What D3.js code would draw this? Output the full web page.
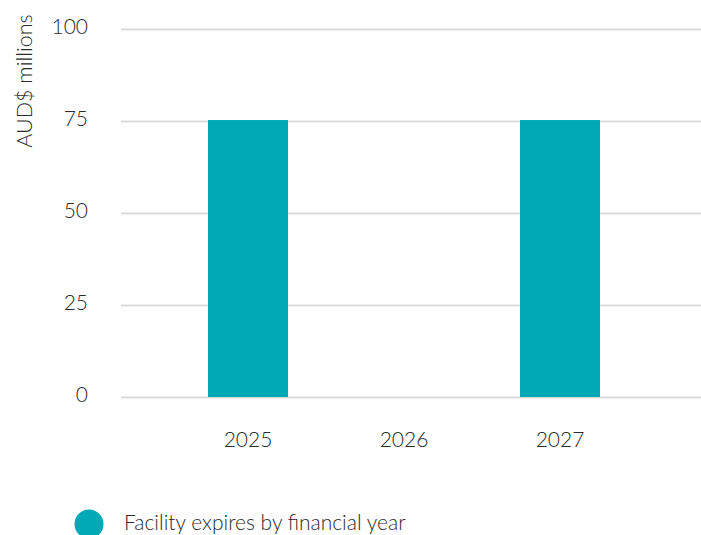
<!DOCTYPE html>
<html>
<head>
<meta charset="utf-8">
<script src="https://cdn.jsdelivr.net/npm/d3@7"></script>
<style>
  html, body { margin: 0; padding: 0; background: #fff; }
  svg { display: block; }
  text { font-family: Lato, "Open Sans", sans-serif; font-weight: 300; fill: #2a2a2a; }
</style>
</head>
<body>
<svg id="chart" width="701" height="535"></svg>
<script>
// Facility maturity profile
const years = ["2025", "2026", "2027"];
const amounts = [75.4, 0, 75.4];
const yTicks = [0, 25, 50, 75, 100];
const seriesName = "Facility expires by financial year";
const axisTitle = "AUD$ millions";

const barColor = "#00a9b5";
const gridColor = "#dcdcdc";

const svg = d3.select("#chart");

const y = d3.scaleLinear().domain([0, 100]).range([397.5, 29.5]);

const pIn = 76 / 156;
const x = d3.scaleBand()
  .domain(years)
  .range([170, 638])
  .paddingInner(pIn)
  .paddingOuter(pIn / 2);

// gridlines
svg.append("g")
  .selectAll("line")
  .data(yTicks)
  .join("line")
  .attr("x1", 121)
  .attr("x2", 701)
  .attr("y1", d => y(d))
  .attr("y2", d => y(d))
  .attr("stroke", gridColor)
  .attr("stroke-width", 2);

// y tick labels
svg.append("g")
  .selectAll("text")
  .data(yTicks)
  .join("text")
  .attr("x", 88)
  .attr("y", d => y(d) - 3)
  .attr("dy", "0.35em")
  .attr("text-anchor", "end")
  .attr("font-size", 21)
  .text(d => d);

// bars
svg.append("g")
  .selectAll("rect")
  .data(years.map((yr, i) => ({ yr, v: amounts[i] })))
  .join("rect")
  .attr("x", d => x(d.yr))
  .attr("width", x.bandwidth())
  .attr("y", d => y(d.v))
  .attr("height", d => y(0) - 0.5 - y(d.v))
  .attr("fill", barColor);

// x tick labels
svg.append("g")
  .selectAll("text")
  .data(years)
  .join("text")
  .attr("x", d => x(d) + x.bandwidth() / 2)
  .attr("y", 447)
  .attr("text-anchor", "middle")
  .attr("font-size", 21)
  .text(d => d);

// y axis title
svg.append("text")
  .attr("transform", "translate(32,81) rotate(-90)")
  .attr("text-anchor", "middle")
  .attr("font-size", 21.5)
  .text(axisTitle);

// legend
const legend = svg.append("g");
legend.append("circle")
  .attr("cx", 89)
  .attr("cy", 524)
  .attr("r", 14.5)
  .attr("fill", barColor);
legend.append("text")
  .attr("x", 124)
  .attr("y", 530)
  .attr("font-size", 21)
  .text(seriesName);
</script>
</body>
</html>
